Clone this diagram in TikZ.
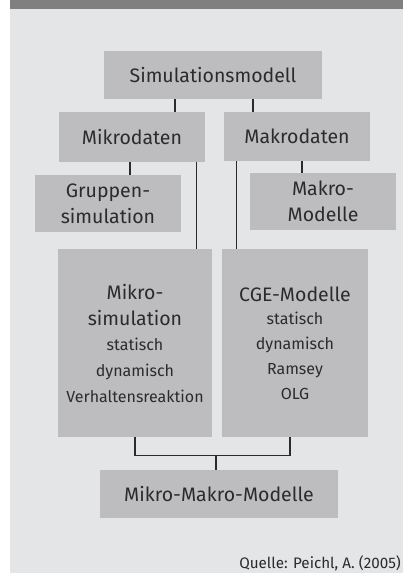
\documentclass[tikz,border=0pt]{standalone}
\usepackage{fontspec}
\setmainfont{Fira Sans}
\usetikzlibrary{positioning}
\definecolor{panelgray}{HTML}{E4E5E7}
\definecolor{boxgray}{HTML}{BDBDBF}
\definecolor{bargray}{HTML}{808080}
\definecolor{inkgray}{HTML}{2B2B2B}
\newcommand\bigtxt{\fontsize{19.5}{26}\selectfont}
\newcommand\smalltxt{\fontsize{16}{23}\selectfont}
\newcommand\srctxt{\fontsize{15.2}{20}\selectfont}
\begin{document}
\begin{tikzpicture}[x=1pt,y=-1pt]
\tikzstyle{box}=[rectangle,fill=boxgray,text=inkgray,inner sep=0pt,align=center,font=\bigtxt]
\tikzstyle{link}=[draw=inkgray,line width=1.2pt]
\useasboundingbox (0,0) rectangle (403,573);
\fill[panelgray] (10,9) rectangle (403,573);
\fill[bargray] (10,0) rectangle (403,9);

\node[box,minimum width=218pt,minimum height=48pt](sim) at (213,75) {Simulationsmodell};
\node[box,minimum width=146pt,minimum height=50pt](mikd) at (132,137) {Mikrodaten};
\node[box,minimum width=146pt,minimum height=49pt](makd) at (297,136.5) {Makrodaten};
\node[box,minimum width=146pt,minimum height=57pt](grp) at (108,203.5) {Gruppen-\\simulation};
\node[box,minimum width=146pt,minimum height=57pt](mkm) at (323,201.5) {Makro-\\Modelle};
\node[box,minimum width=154pt,minimum height=188pt](msim) at (135,343) {Mikro-\\simulation\\[-1pt]\smalltxt statisch\\\smalltxt dynamisch\\\smalltxt Verhaltensreaktion};
\node[box,minimum width=146pt,minimum height=188pt](cge) at (295,343) {CGE-Modelle\\[-3pt]\smalltxt statisch\\[-1pt]\smalltxt dynamisch\\[-1pt]\smalltxt Ramsey\\[-1pt]\smalltxt OLG};
\node[box,minimum width=238pt,minimum height=48pt](mmm) at (219,494) {Mikro-Makro-Modelle};
\node[anchor=east,text=inkgray,inner sep=0pt,font=\srctxt](quelle) at (401,563) {Quelle: Peichl, A. (2005)};

\coordinate (bar) at ([yshift=-18pt]msim.south);

\draw[link] ([xshift=-38pt]sim.south) -- ([xshift=-38pt]sim.south |- mikd.north);
\draw[link] ([xshift=40pt]sim.south) -- ([xshift=40pt]sim.south |- makd.north);
\draw[link] ([xshift=-2pt]mikd.south) -- ([xshift=-2pt]mikd.south |- grp.north);
\draw[link] ([xshift=5pt]makd.south) -- ([xshift=5pt]makd.south |- mkm.north);
\draw[link] ([xshift=-9pt]mikd.south east) -- ([xshift=-9pt]mikd.south east |- msim.north);
\draw[link] ([xshift=13pt]makd.south west) -- ([xshift=13pt]makd.south west |- cge.north);
\draw[link] (msim.south) -- (bar) -| ([xshift=-5pt]cge.south);
\draw[link] ([xshift=-3pt]mmm.north) -- ([xshift=-3pt]mmm.north |- bar);
\end{tikzpicture}
\end{document}
